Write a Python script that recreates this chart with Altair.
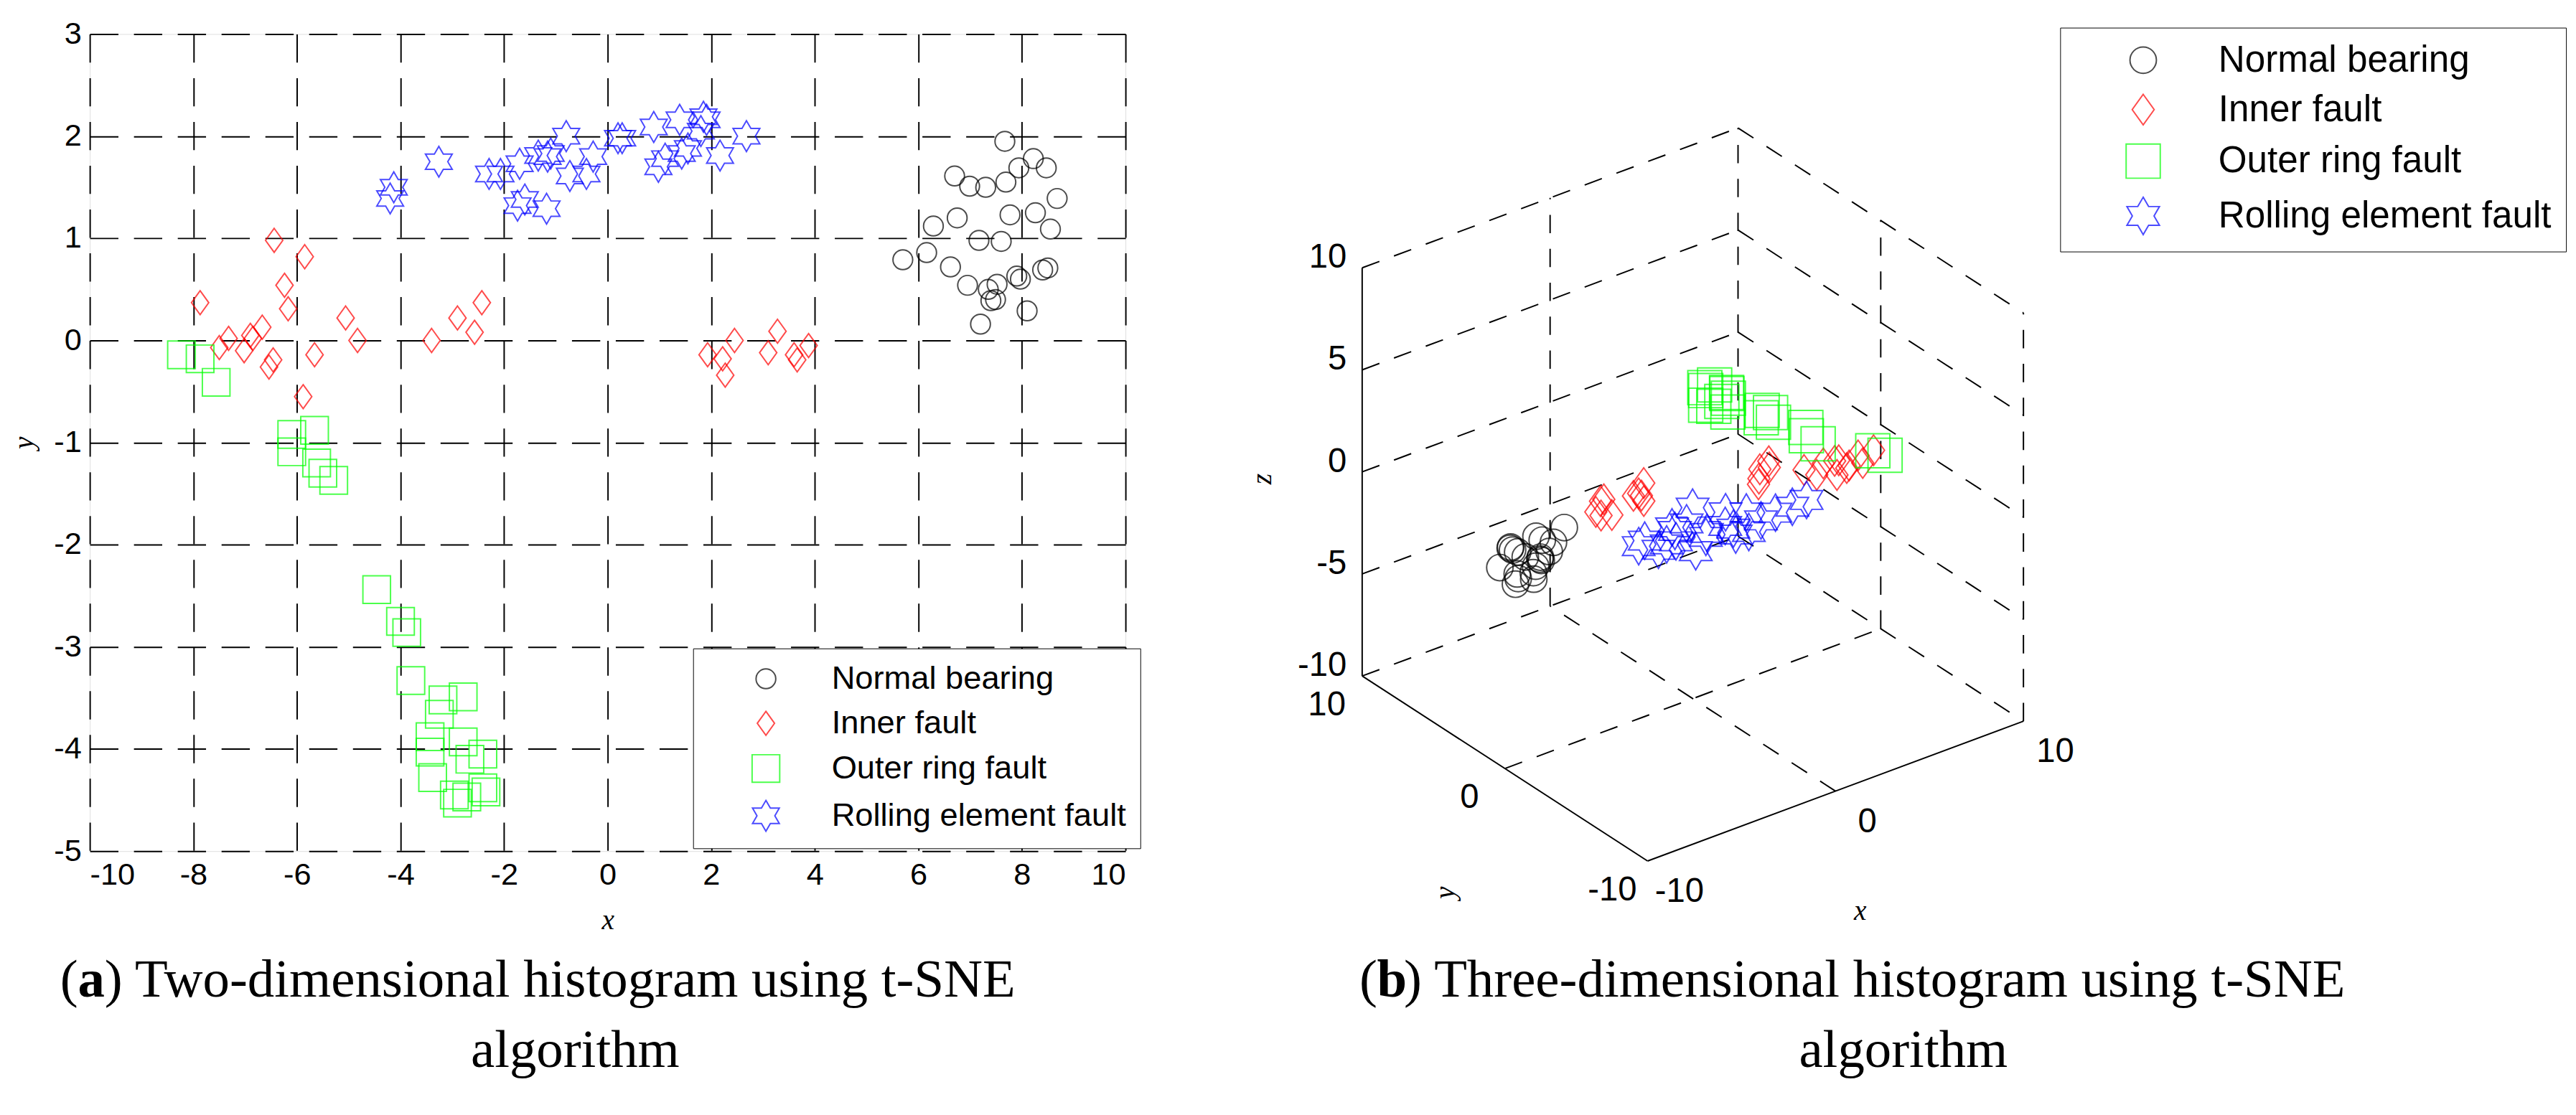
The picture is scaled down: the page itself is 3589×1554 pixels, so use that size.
import altair as alt
import pandas as pd

classes = ["Normal bearing", "Inner fault", "Outer ring fault", "Rolling element fault"]
colors = ["black", "red", "#00ff00", "blue"]
diamond = "M0,-1L0.72,0L0,1L-0.72,0Z"
star = "M0,-1L0.29,-0.5L0.87,-0.5L0.58,0L0.87,0.5L0.29,0.5L0,1L-0.29,0.5L-0.87,0.5L-0.58,0L-0.87,-0.5L-0.29,-0.5Z"
shapes = ["circle", diamond, "square", star]

# ---- 2-D t-SNE embedding ----
normal_x = [5.7, 6.16, 6.29, 6.62, 6.7, 6.75, 6.95, 6.99, 7.17, 7.2, 7.3, 7.35, 7.4, 7.67, 7.94, 8.22,
            8.47, 7.69, 8.68, 7.77, 8.26, 8.55, 7.6, 8.5, 8.4, 7.97, 7.9, 7.49, 8.1, 7.52]
normal_y = [0.79, 0.86, 1.12, 0.72, 1.61, 1.2, 0.54, 1.51, 0.98, 0.16, 1.5, 0.5, 0.39, 1.95, 1.69, 1.78,
            1.69, 1.55, 1.39, 1.23, 1.25, 1.09, 0.97, 0.71, 0.69, 0.6, 0.63, 0.4, 0.29, 0.55]
inner_x = [-7.87, -7.32, -7.5, -7.02, -6.85, -6.67, -6.9, -6.44, -6.24, -6.17, -6.54, -6.46, -5.85, -5.88,
           -5.66, -5.06, -4.83, -3.4, -2.9, -2.57, -2.43, 1.93, 2.22, 2.27, 2.45, 3.1, 3.28, 3.6, 3.66, 3.88]
inner_y = [0.37, 0.02, -0.07, -0.1, 0.02, 0.13, 0.05, 0.98, 0.54, 0.31, -0.26, -0.19, 0.82, -0.55,
           -0.14, 0.22, 0.0, 0.0, 0.22, 0.08, 0.37, -0.14, -0.18, -0.34, 0.0, -0.12, 0.09, -0.14, -0.19, -0.05]
outer_x = [-8.23, -7.87, -7.56, -5.66, -6.1, -6.1, -5.62, -5.5, -5.29, -4.46, -4.0, -3.88, -3.8, -3.18,
           -2.79, -3.25, -3.43, -3.43, -2.79, -2.66, -2.41, -3.38, -2.96, -2.9, -2.72, -2.35, -2.41]
outer_y = [-0.14, -0.18, -0.41, -0.88, -0.92, -1.09, -1.2, -1.3, -1.37, -2.44, -2.75, -2.86, -3.33, -3.52,
           -3.49, -3.66, -3.88, -4.03, -3.93, -4.1, -4.05, -4.28, -4.45, -4.53, -4.47, -4.42, -4.38]
rolling_x = [-4.2, -4.13, -3.26, -2.29, -2.07, -1.7, -1.74, -1.6, -1.34, -1.18, -1.1, -1.16, -0.8, -0.73,
             -0.41, -0.28, 0.2, 0.28, 0.89, 0.98, 1.11, 1.39, 1.43, 1.55, 1.8, 1.85, 1.91, 2.17, 2.68]
rolling_y = [1.39, 1.5, 1.75, 1.63, 1.63, 1.73, 1.32, 1.38, 1.81, 1.29, 1.83, 1.8, 2.0, 1.61,
             1.63, 1.8, 1.98, 1.98, 2.09, 1.7, 1.78, 2.16, 1.83, 1.88, 2.05, 2.19, 2.16, 1.81, 2.0]

# ---- 3-D t-SNE embedding ----
normal3_x = [-3.6, -4.5, -2.8, -3.2, -4.0, -2.4, -3.9, -3.0, -4.8, -2.1, -3.4, -3.7, -2.9, -4.2, -3.3, -2.6, -4.4, -3.1, -1.6, -3.8]
normal3_y = [7.0, 6.5, 7.3, 6.8, 7.5, 6.9, 7.1, 6.6, 7.2, 7.0, 6.7, 7.4, 6.9, 7.1, 6.8, 7.2, 7.0, 6.6, 6.9, 7.3]
normal3_z = [-5.0, -5.8, -4.4, -5.5, -4.6, -5.1, -6.0, -4.2, -5.2, -4.8, -5.7, -4.9, -5.3, -4.5, -6.1, -5.6, -4.3, -5.0, -4.2, -5.9]
inner3_x = [-4.4, -4.0, -3.7, -4.2, -3.9, -2.4, -2.0, -1.7, -2.2, -1.9, 2.0, 2.4, 2.2, 1.9, 2.6,
            4.4, 5.0, 5.5, 6.0, 6.4, 6.8, 7.2, 7.6, 8.1, 5.8, 6.9]
inner3_y = [1, 1.2, 0.8, 0.9, 1.1, 1, 0.8, 1.2, 0.9, 1.1, -2, -2.2, -1.8, -2.1, -1.9,
            -2, -2.1, -1.9, -2.2, -1.8, -2, -2.1, -1.9, -2.0, -2.3, -1.7]
inner3_z = [0.2, 0.5, -0.1, 0.0, 0.6, 0.3, 0.0, 0.6, 0.4, 0.1, 1.0, 1.5, 1.3, 0.8, 1.6,
            0.6, 0.2, 0.5, -0.1, 0.3, 0.0, 0.4, -0.2, 0.3, 0.7, -0.3]
outer3_x = [1.6, 2.0, 2.3, 1.8, 2.5, 1.4, 2.1, 2.8, 1.9, 2.4, 4.4, 4.9, 5.2, 4.6, 6.8, 7.2, 7.0, 7.3, 7.8]
outer3_y = [1.2, 0.6, 1.5, 0.9, 0.8, 1.0, 0.4, 1.3, 1.6, 0.7, 1.0, 0.8, 1.4, 1.2, 1.0, 0.7, 1.3, -3.0, -3.2]
outer3_z = [4.0, 3.6, 3.9, 3.3, 3.5, 4.3, 4.1, 3.4, 3.0, 2.9, 1.8, 1.5, 1.6, 2.0, 0.1, -0.3, 0.3, 1.0, 0.7]
rolling3_x = [-2.5, -2.0, -1.6, -1.2, -1.8, -0.8, -0.3, 0.2, 0.6, 1.0, 1.4, 1.8, 2.2, 2.6, 3.0, 3.4, 0.9, 1.6, 4.4, 5.6, 5.9, -0.5]
rolling3_y = [0.5, -0.8, 0.3, -0.4, 1.0, 0.2, -0.6, 0.7, -0.2, 0.4, -1.0, 0.1, 0.6, -0.5, 0.2, -0.3, 1.2, -0.9, 0.0, 0.4, -0.2, 0.8]
rolling3_z = [-1.9, -1.4, -2.3, -1.7, -2.1, -1.6, -2.4, -1.8, -2.0, -2.6, -1.7, -2.2, -1.9, -2.5, -2.0, -2.3, -1.5, -2.1, -2.4, -2.7, -2.2, -1.8]

z_ticks = [-10, -5, 0, 5, 10]
xy_ticks = [-10, 0, 10]

LABEL_FONT = "Liberation Sans Narrow, Liberation Sans, Arial"
SERIF = "Liberation Serif, Times New Roman"

color_scale = alt.Scale(domain=classes, range=colors)
shape_scale = alt.Scale(domain=classes, range=shapes)


def legend(x, y, font_size, pad_row, sym_off, lab_off, sym_size):
    return alt.Legend(title=None, orient="none", legendX=x, legendY=y, strokeColor="black",
                      fillColor="white", padding=20, labelFont=LABEL_FONT, labelFontSize=font_size,
                      labelColor="black", rowPadding=pad_row, symbolOffset=sym_off, labelOffset=lab_off,
                      symbolSize=sym_size, symbolStrokeWidth=2, labelLimit=800)


def axis(values, title):
    return alt.Axis(values=values, title=title, grid=True, ticks=False, domain=False,
                    labelExpr="'' + datum.value",
                    labelFontSize=44, labelFont=LABEL_FONT, labelColor="black", labelPadding=12,
                    titleFont=SERIF, titleFontStyle="italic", titleFontWeight="normal",
                    titleFontSize=40, titlePadding=22, gridColor="black", gridDash=[40, 22],
                    gridWidth=2, gridOpacity=1)


# ---- left panel ----
parts = []
for c, xs, ys in zip(classes, [normal_x, inner_x, outer_x, rolling_x], [normal_y, inner_y, outer_y, rolling_y]):
    parts.append(pd.DataFrame({"x": xs, "y": ys, "cls": c}))
df2 = pd.concat(parts)

leg_a = legend(854, 870, 46, 17, 60, 70, 900)
scatter2 = alt.Chart(df2).mark_point(filled=False, strokeWidth=2).encode(
    x=alt.X("x:Q", scale=alt.Scale(domain=[-10, 10], nice=False), axis=axis(list(range(-10, 11, 2)), "x")),
    y=alt.Y("y:Q", scale=alt.Scale(domain=[-5, 3], nice=False), axis=axis(list(range(-5, 4)), "y")),
    color=alt.Color("cls:N", scale=color_scale, legend=leg_a),
    shape=alt.Shape("cls:N", scale=shape_scale, legend=leg_a),
    size=alt.Size("cls:N", scale=alt.Scale(domain=classes, range=[780, 1900, 900, 1000]), legend=None),
)


def caption(letter, rest, x0, y0, cx):
    c1 = alt.Chart(pd.DataFrame({"t": ["("]})).mark_text(
        font=SERIF, fontSize=76, align="left", color="black").encode(
        x=alt.value(x0), y=alt.value(y0), text="t:N")
    c2 = alt.Chart(pd.DataFrame({"t": [letter]})).mark_text(
        font=SERIF, fontSize=76, fontWeight="bold", align="left", color="black").encode(
        x=alt.value(x0 + 25), y=alt.value(y0), text="t:N")
    c3 = alt.Chart(pd.DataFrame({"t": [rest]})).mark_text(
        font=SERIF, fontSize=76, align="left", color="black").encode(
        x=alt.value(x0 + 63), y=alt.value(y0), text="t:N")
    c4 = alt.Chart(pd.DataFrame({"t": ["algorithm"]})).mark_text(
        font=SERIF, fontSize=76, align="center", color="black").encode(
        x=alt.value(cx), y=alt.value(y0 + 100), text="t:N")
    return [c1, c2, c3, c4]


left = alt.layer(scatter2, *caption("a", ") Two-dimensional histogram using t-SNE", -42, 1340, 687)).properties(
    width=1466, height=1157)

# ---- right panel: simple oblique projection of the 3-D box ----
O = (2311, 1218)
EX = (532, -198)
EY = (-404, -262)
EZ = (0, -578)


def proj(x, y, z):
    u, v, w = (x + 10) / 20, (y + 10) / 20, (z + 10) / 20
    return O[0] + u * EX[0] + v * EY[0] + w * EZ[0], O[1] + u * EX[1] + v * EY[1] + w * EZ[1]


def seg(a, b):
    (x1, y1), (x2, y2) = proj(*a), proj(*b)
    return {"px": x1, "py": y1, "px2": x2, "py2": y2}


dashed = []
for z in z_ticks:
    dashed.append(seg((-10, 10, z), (10, 10, z)))
    dashed.append(seg((10, 10, z), (10, -10, z)))
for t in [0, 10]:
    dashed.append(seg((t, 10, -10), (t, 10, 10)))
for t in [0, -10]:
    dashed.append(seg((10, t, -10), (10, t, 10)))
dashed.append(seg((0, -10, -10), (0, 10, -10)))
dashed.append(seg((-10, 0, -10), (10, 0, -10)))
solid = [seg((-10, 10, -10), (-10, 10, 10)), seg((-10, 10, -10), (-10, -10, -10)),
         seg((-10, -10, -10), (10, -10, -10))]

XS = alt.Scale(domain=[1700, 3580], nice=False, zero=False)
YS = alt.Scale(domain=[47, 1204], nice=False, zero=False, reverse=True)


def rules(rows, dash):
    props = dict(color="black", strokeWidth=2)
    if dash:
        props["strokeDash"] = [26, 22]
    return alt.Chart(pd.DataFrame(rows)).mark_rule(**props).encode(
        x=alt.X("px:Q", scale=XS, axis=None), y=alt.Y("py:Q", scale=YS, axis=None),
        x2="px2:Q", y2="py2:Q")


labels = []
for z in z_ticks:
    px, py = proj(-10, 10, z)
    labels.append({"px": px - 22, "py": py - 14, "t": str(z), "a": "right"})
for y in xy_ticks:
    px, py = proj(-10, y, -10)
    labels.append({"px": px - 50, "py": py + 42, "t": str(y), "a": "center"})
for x in xy_ticks:
    px, py = proj(x, -10, -10)
    labels.append({"px": px + 45, "py": py + 44, "t": str(x), "a": "center"})
lab_df = pd.DataFrame(labels)


def tick_text(align):
    return alt.Chart(lab_df[lab_df.a == align]).mark_text(
        font=LABEL_FONT, fontSize=48, align=align, baseline="middle", color="black").encode(
        x=alt.X("px:Q", scale=XS, axis=None), y=alt.Y("py:Q", scale=YS, axis=None), text="t:N")


titles3 = alt.Chart(pd.DataFrame({"px": [1766, 2025, 2612], "py": [677, 1263, 1289], "t": ["z", "y", "x"],
                                  "r": [-90, -90, 0]})).mark_text(
    font=SERIF, fontSize=40, fontStyle="italic", color="black", baseline="middle").encode(
    x=alt.X("px:Q", scale=XS, axis=None), y=alt.Y("py:Q", scale=YS, axis=None), text="t:N",
    angle=alt.Angle("r:Q", scale=None))

parts3 = []
for c, xs, ys, zs in zip(classes, [normal3_x, inner3_x, outer3_x, rolling3_x],
                         [normal3_y, inner3_y, outer3_y, rolling3_y], [normal3_z, inner3_z, outer3_z, rolling3_z]):
    for x, y, z in zip(xs, ys, zs):
        px, py = proj(x, y, z)
        parts3.append({"px": px, "py": py, "cls": c})
df3 = pd.DataFrame(parts3)

leg_b = legend(1195, -9, 52, 18, 70, 79, 1000)
scatter3 = alt.Chart(df3).mark_point(filled=False, strokeWidth=2).encode(
    x=alt.X("px:Q", scale=XS, axis=None), y=alt.Y("py:Q", scale=YS, axis=None),
    color=alt.Color("cls:N", scale=color_scale, legend=leg_b),
    shape=alt.Shape("cls:N", scale=shape_scale, legend=leg_b),
    size=alt.Size("cls:N", scale=alt.Scale(domain=classes, range=[1400, 2800, 1300, 1300]), legend=None),
)

right = alt.layer(rules(dashed, True), rules(solid, False), tick_text("right"), tick_text("center"),
                  titles3, scatter3,
                  *caption("b", ") Three-dimensional histogram using t-SNE", 203, 1340, 973)).properties(
    width=1880, height=1157, view=alt.ViewBackground(strokeOpacity=0))

chart = alt.hconcat(left, right, spacing=106).resolve_scale(
    color="independent", shape="independent", size="independent", x="independent", y="independent"
).resolve_legend(color="independent", shape="independent").configure_view(
    stroke="black", strokeWidth=2).configure(background="white")

chart.save("out.html", embed_options={"renderer": "svg", "actions": False})
